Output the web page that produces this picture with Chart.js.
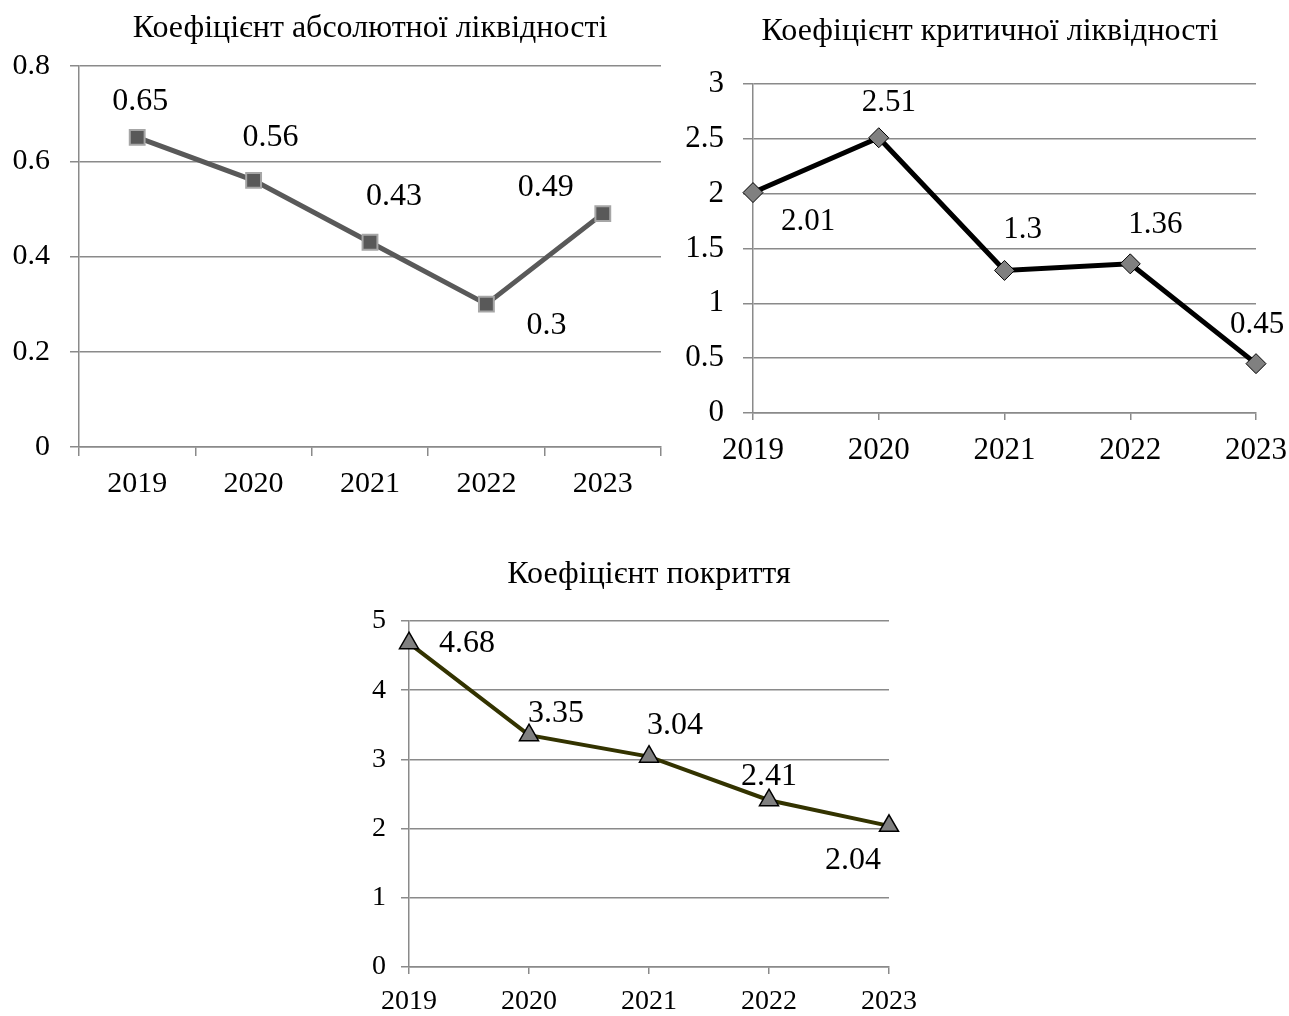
<!DOCTYPE html>
<html>
<head>
<meta charset="utf-8">
<script src="https://cdn.jsdelivr.net/npm/chart.js@4/dist/chart.umd.min.js"></script>
<style>
  html, body { margin: 0; padding: 0; background: #fff; }
  body { width: 1289px; height: 1016px; position: relative; overflow: hidden; }
  canvas { position: absolute; }
</style>
</head>
<body>
<canvas id="c1" width="665" height="515" style="left:0px;top:0px;"></canvas>
<canvas id="c2" width="680" height="475" style="left:665px;top:0px;"></canvas>
<canvas id="c3" width="600" height="476" style="left:330px;top:540px;"></canvas>
<script>
// ---- data ----
const years = ['2019', '2020', '2021', '2022', '2023'];
const absLiquidity = [0.65, 0.56, 0.43, 0.3, 0.49];
const critLiquidity = [2.01, 2.51, 1.3, 1.36, 0.45];
const coverage = [4.68, 3.35, 3.04, 2.41, 2.04];
const title1 = 'Коефіцієнт абсолютної ліквідності';
const title2 = 'Коефіцієнт критичної ліквідності';
const title3 = 'Коефіцієнт покриття';
const yMax1 = 0.8, yStep1 = 0.2;
const yMax2 = 3, yStep2 = 0.5;
const yMax3 = 5, yStep3 = 1;

// ---- style ----
const FONT = "'Liberation Serif', 'Times New Roman', serif";
const GRID = '#8a8a8a';

const labelPlugin = {
  id: 'ptLabels',
  afterDatasetsDraw(chart, args, opts) {
    const meta = chart.getDatasetMeta(0);
    const vals = chart.data.datasets[0].data;
    const ctx = chart.ctx;
    ctx.save();
    ctx.font = opts.size + 'px ' + FONT;
    ctx.fillStyle = '#000';
    ctx.textAlign = 'center';
    ctx.textBaseline = 'middle';
    meta.data.forEach((pt, i) => {
      const off = opts.offsets[i];
      ctx.fillText(String(vals[i]), pt.x + off[0], pt.y + off[1]);
    });
    ctx.restore();
  }
};

function makeChart(id, cfg) {
  const ctx = document.getElementById(id);
  const scales = {
    x: {
      offset: cfg.xOffset,
      grid: {
        offset: cfg.xOffset,
        drawOnChartArea: false,
        drawTicks: true,
        tickLength: cfg.xTick,
        color: GRID,
        lineWidth: 1.5
      },
      border: { color: GRID, width: 1.5 },
      ticks: {
        color: '#000',
        font: { family: FONT, size: cfg.tickSize },
        padding: cfg.xPad,
        maxRotation: 0,
        autoSkip: false
      },
      afterFit(s) {
        s.height = cfg.xHeight;
        s.paddingLeft = 0; s.paddingRight = 0; s.paddingTop = 0; s.paddingBottom = 0;
      }
    },
    y: {
      min: 0,
      max: cfg.yMax,
      grid: {
        color: GRID,
        lineWidth: 1.5,
        tickLength: cfg.yTick
      },
      border: { color: GRID, width: 1.5 },
      ticks: {
        stepSize: cfg.yStep,
        color: '#000',
        font: { family: FONT, size: cfg.tickSize },
        padding: cfg.yPad,
        callback: (v) => String(+Number(v).toFixed(2))
      },
      afterFit(s) {
        s.width = cfg.yWidth;
        s.paddingLeft = 0; s.paddingRight = 0; s.paddingTop = 0; s.paddingBottom = 0;
      }
    }
  };
  if (cfg.rightSpace) {
    scales.ySpace = {
      position: 'right',
      display: true,
      grid: { display: false },
      border: { display: false },
      ticks: { display: false },
      afterFit(s) {
        s.width = cfg.rightSpace;
        s.paddingLeft = 0; s.paddingRight = 0; s.paddingTop = 0; s.paddingBottom = 0;
      }
    };
  }
  return new Chart(ctx, {
    type: 'line',
    data: {
      labels: cfg.labels,
      datasets: [{
        data: cfg.values,
        yAxisID: 'y',
        borderColor: cfg.lineColor,
        borderWidth: cfg.lineWidth,
        pointStyle: cfg.pointStyle,
        pointRadius: cfg.pointRadius,
        pointHoverRadius: cfg.pointRadius,
        pointBackgroundColor: cfg.pointFill,
        pointBorderColor: cfg.pointBorder,
        pointBorderWidth: cfg.pointBorderWidth,
        tension: 0,
        clip: false,
        fill: false
      }]
    },
    options: {
      responsive: false,
      animation: false,
      devicePixelRatio: 1,
      events: [],
      layout: { padding: cfg.padding, autoPadding: false },
      plugins: {
        legend: { display: false },
        tooltip: { enabled: false },
        title: {
          display: true,
          text: cfg.title,
          color: '#000',
          fullSize: cfg.titleFull,
          font: { family: FONT, size: 32, weight: 'normal' },
          padding: cfg.titlePad
        },
        ptLabels: { offsets: cfg.offsets, size: cfg.labelSize }
      },
      scales: scales
    },
    plugins: [labelPlugin]
  });
}

makeChart('c1', {
  labels: years, values: absLiquidity, title: title1,
  lineColor: '#595959', lineWidth: 5,
  pointStyle: 'rect', pointRadius: 10.5, pointFill: '#595959', pointBorder: '#a6a6a6', pointBorderWidth: 2,
  padding: { left: 0, right: 4, top: 0, bottom: 0 },
  titleFull: false, titlePad: { top: 9, bottom: 18.6 },
  xOffset: true, xTick: 9, xPad: 10, xHeight: 68,
  yMax: yMax1, yStep: yStep1, yTick: 9, yPad: 20, yWidth: 79,
  tickSize: 30, labelSize: 32,
  offsets: [[3, -36], [17, -43], [24, -46], [60, 21], [-57, -26]]
});

makeChart('c2', {
  labels: years, values: critLiquidity, title: title2,
  lineColor: '#000000', lineWidth: 5,
  pointStyle: 'rectRot', pointRadius: 10, pointFill: '#808080', pointBorder: '#000000', pointBorderWidth: 1,
  padding: { left: 0, right: 30, top: 0, bottom: 0 },
  rightSpace: 59,
  titleFull: true, titlePad: { top: 12, bottom: 33.6 },
  xOffset: false, xTick: 7, xPad: 12, xHeight: 62,
  yMax: yMax2, yStep: yStep2, yTick: 10, yPad: 19, yWidth: 88,
  tickSize: 31, labelSize: 31,
  offsets: [[55, 29], [10, -35], [18, -41], [25, -39], [1, -39]]
});

makeChart('c3', {
  labels: years, values: coverage, title: title3,
  lineColor: '#333300', lineWidth: 4,
  pointStyle: 'triangle', pointRadius: 11, pointFill: '#808080', pointBorder: '#000000', pointBorderWidth: 1.5,
  padding: { left: 0, right: 41, top: 0, bottom: 0 },
  titleFull: false, titlePad: { top: 15, bottom: 27.6 },
  xOffset: false, xTick: 7, xPad: 11, xHeight: 49,
  yMax: yMax3, yStep: yStep3, yTick: 8, yPad: 15, yWidth: 79,
  tickSize: 28, labelSize: 32,
  offsets: [[58, 0], [27, -22], [26, -31], [0, -24], [-36, 35]]
});
</script>
</body>
</html>
